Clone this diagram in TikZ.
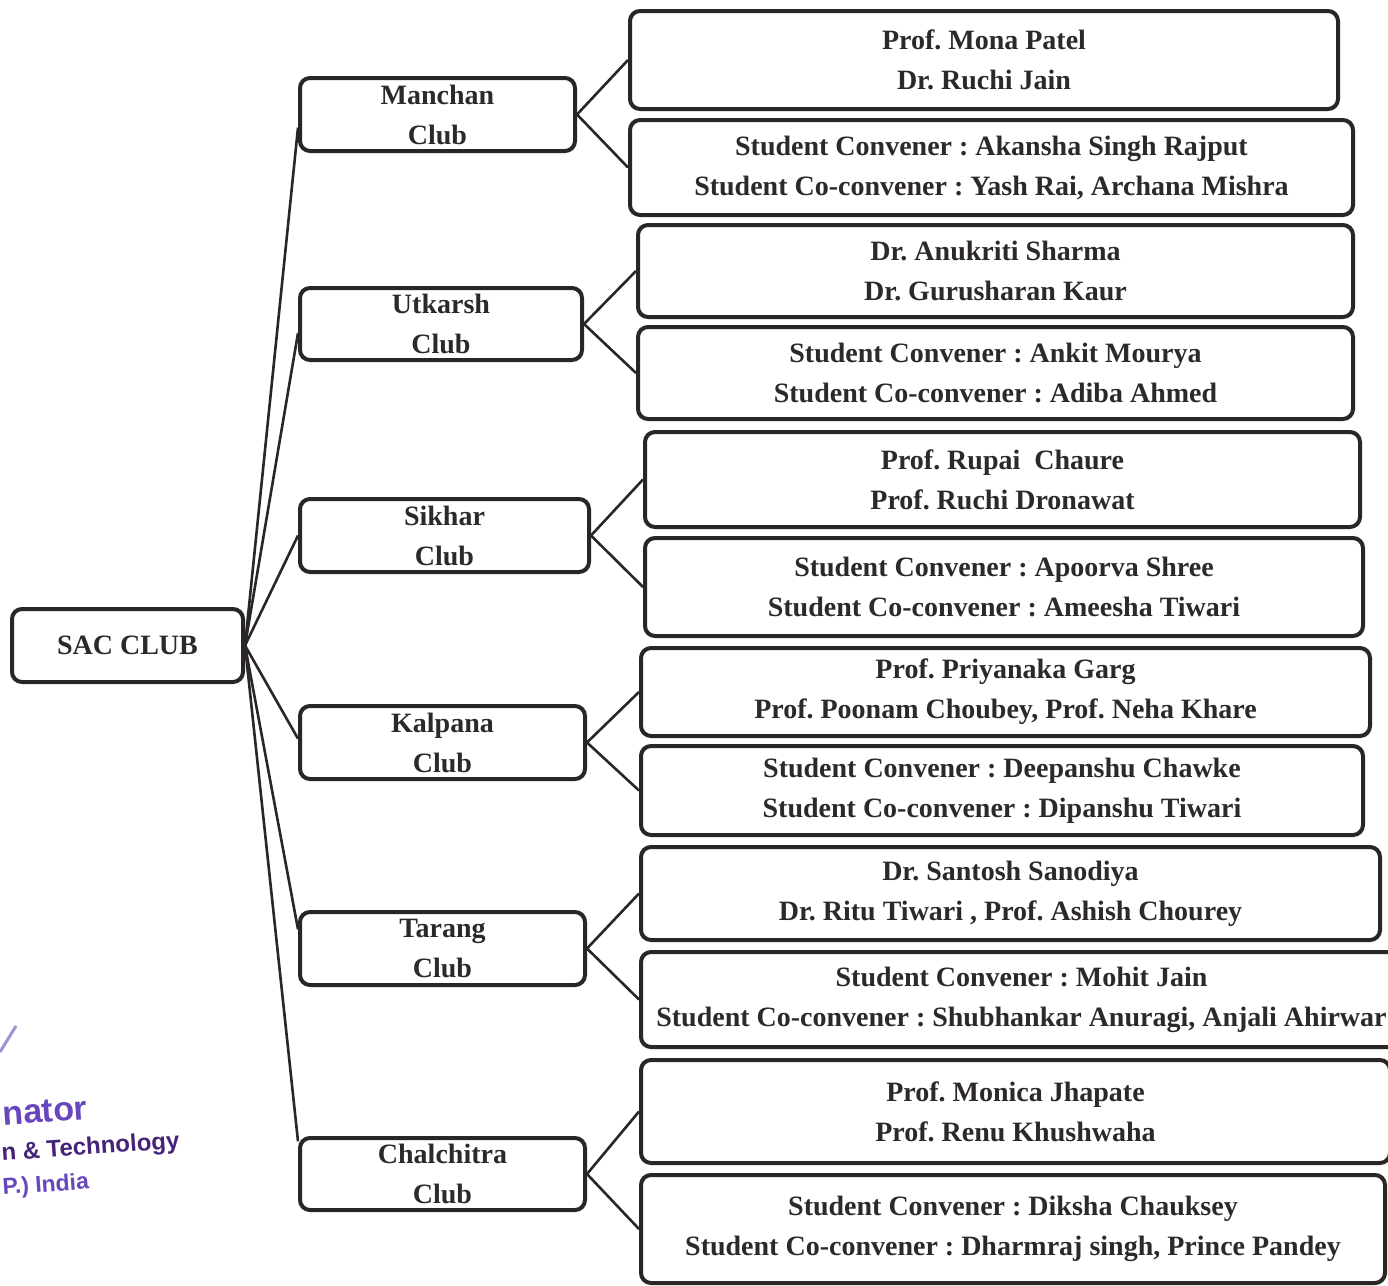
\documentclass[tikz,border=0pt]{standalone}
\usepackage{fontspec}
\setmainfont{Liberation Serif}
\newfontfamily\stampfont{Liberation Sans}
\usetikzlibrary{calc}
\frenchspacing
\definecolor{boxc}{RGB}{42,38,38}
\definecolor{txtc}{RGB}{45,41,41}
\definecolor{stampc}{RGB}{105,70,190}
\definecolor{stampd}{RGB}{70,35,120}
\tikzset{
  box/.style={draw=boxc, line width=2pt, rounded corners=5pt, fill=white,
    align=center, inner sep=0pt, text=txtc,
    font=\bfseries\fontsize{14}{20}\selectfont},
  conn/.style={draw=boxc, line width=1.3pt},
  stamptext/.style={text=stampc, inner sep=0pt, rotate=4,
    font=\stampfont\bfseries},
}
% name, text, x1, x2, y1, y2 (pixels)
\newcommand\bx[6]{\node[box, minimum width={(#4-#3)*0.5pt},
  minimum height={(#6-#5)*0.5pt}] (#1) at ({(#3+#4)/2},{(#5+#6)/2}) {#2};}
\begin{document}
\begin{tikzpicture}[x=0.5pt,y=-0.5pt]
\clip (0,0) rectangle (1388,1286);
\fill[white] (0,0) rectangle (1388,1286);

% stamp remnant
\draw[stampc!60, line width=1.5pt] (0,1052) -- (16,1026);
\node[stamptext, anchor=south west, font=\stampfont\bfseries\fontsize{17}{17}\selectfont] (st1) at (3,1126) {nator};
\node[stamptext, text=stampd, anchor=south west, font=\stampfont\bfseries\fontsize{12}{12}\selectfont] (st2) at (2,1166) {n \& Technology};
\node[stamptext, anchor=south west, font=\stampfont\bfseries\fontsize{11.5}{12}\selectfont] (st3) at (3,1200) {P.) India};

% main boxes
\bx{sac}{SAC CLUB}{12}{243}{609}{682}
\bx{man}{Manchan\\Club}{300}{575}{78}{151}
\bx{utk}{Utkarsh\\Club}{300}{582}{288}{360}
\bx{sik}{Sikhar\\Club}{300}{589}{499}{572}
\bx{kal}{Kalpana\\Club}{300}{585}{706}{779}
\bx{tar}{Tarang\\Club}{300}{585}{912}{985}
\bx{cha}{Chalchitra\\Club}{300}{585}{1138}{1210}

% detail boxes
\bx{man1}{Prof. Mona Patel\\Dr. Ruchi Jain}{630}{1338}{11}{109}
\bx{man2}{Student Convener : Akansha Singh Rajput\\Student Co-convener : Yash Rai, Archana Mishra}{630}{1353}{120}{215}
\bx{utk1}{Dr. Anukriti Sharma\\Dr. Gurusharan Kaur}{638}{1353}{225}{317}
\bx{utk2}{Student Convener : Ankit Mourya\\Student Co-convener : Adiba Ahmed}{638}{1353}{327}{419}
\bx{sik1}{Prof. Rupai~ Chaure\\Prof. Ruchi Dronawat}{645}{1360}{432}{527}
\bx{sik2}{Student Convener : Apoorva Shree\\Student Co-convener : Ameesha Tiwari}{645}{1363}{538}{636}
\bx{kal1}{Prof. Priyanaka Garg\\Prof. Poonam Choubey, Prof. Neha Khare}{641}{1370}{648}{736}
\bx{kal2}{Student Convener : Deepanshu Chawke\\Student Co-convener : Dipanshu Tiwari}{641}{1363}{746}{835}
\bx{tar1}{Dr. Santosh Sanodiya\\Dr. Ritu Tiwari , Prof. Ashish Chourey}{641}{1380}{847}{940}
\bx{tar2}{Student Convener : Mohit Jain\\Student Co-convener : Shubhankar Anuragi, Anjali Ahirwar}{641}{1402}{952}{1047}
\bx{cha1}{Prof. Monica Jhapate\\Prof. Renu Khushwaha}{641}{1390}{1060}{1163}
\bx{cha2}{Student Convener : Diksha Chauksey\\Student Co-convener : Dharmraj singh, Prince Pandey}{641}{1385}{1175}{1283}

% connectors from SAC CLUB
\draw[conn] (sac.east) -- ($(man.north west)!0.67!(man.south west)$);
\draw[conn] (sac.east) -- ($(utk.north west)!0.62!(utk.south west)$);
\draw[conn] (sac.east) -- ($(sik.north west)!0.5!(sik.south west)$);
\draw[conn] (sac.east) -- ($(kal.north west)!0.45!(kal.south west)$);
\draw[conn] (sac.east) -- ($(tar.north west)!0.25!(tar.south west)$);
\draw[conn] (sac.east) -- ($(cha.north west)!0.07!(cha.south west)$);

% connectors from clubs
\foreach \c in {man,utk,sik,kal,tar,cha}{
  \draw[conn] (\c.east) -- (\c1.west);
  \draw[conn] (\c.east) -- (\c2.west);
}
\end{tikzpicture}
\end{document}
